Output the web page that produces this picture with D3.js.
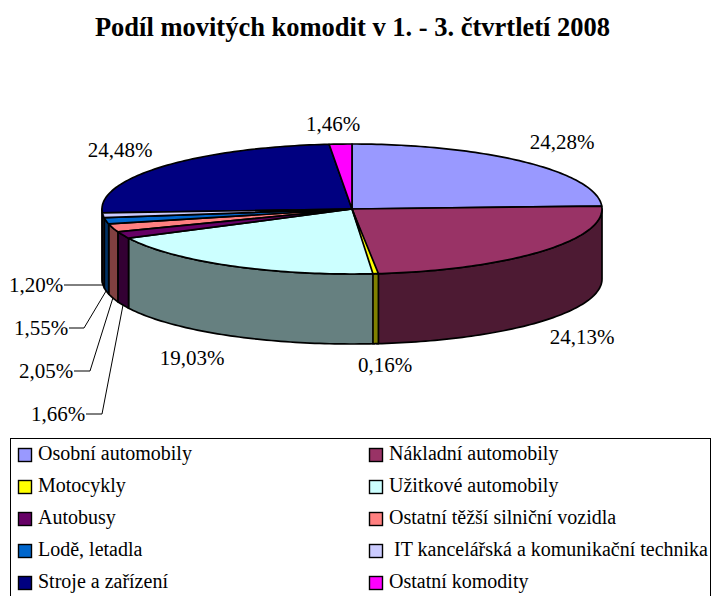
<!DOCTYPE html>
<html>
<head>
<meta charset="utf-8">
<script src="https://d3js.org/d3.v7.min.js"></script>
<style>
  html, body { margin: 0; padding: 0; background: #fff; overflow: hidden; }
  text { font-family: "Liberation Serif", serif; fill: #000; white-space: pre; }
</style>
</head>
<body>
<div id="chart"></div>
<script>
var title = "Podíl movitých komodit v 1. - 3. čtvrtletí 2008";
var categories = ["Osobní automobily", "Nákladní automobily", "Motocykly", "Užitkové automobily", "Autobusy",
                  "Ostatní těžší silniční vozidla", "Lodě, letadla", " IT kancelářská a komunikační technika",
                  "Stroje a zařízení", "Ostatní komodity"];
var values = [24.28, 24.13, 0.16, 19.03, 1.66, 2.05, 1.55, 1.20, 24.48, 1.46];
var topColors = ["#9999ff", "#993366", "#ffff00", "#ccffff", "#660066", "#ff8080", "#0066cc", "#ccccff", "#000080", "#ff00ff"];
var sideColors = ["#4d4d80", "#4d1a33", "#808000", "#668080", "#330033", "#804040", "#003366", "#666680", "#000040", "#800080"];

// where each label sits; elbow is only set for the ones with a leader line
var labelPos = [
  {x: 562, y: 149}, {x: 582, y: 344}, {x: 385, y: 372}, {x: 192, y: 365}, {x: 58, y: 421, elbow: 102},
  {x: 46, y: 378, elbow: 90}, {x: 41, y: 335, elbow: 84}, {x: 36, y: 292, elbow: 103},
  {x: 120, y: 157}, {x: 333, y: 131}
];

var width = 713, height = 596;
var depth = 70;
var minSweep = 0.022; // very thin slices would vanish under their outline

var svg = d3.select("#chart").append("svg")
  .attr("width", width)
  .attr("height", height);

svg.append("text")
  .text(title)
  .attr("x", 352.5)
  .attr("y", 36)
  .attr("text-anchor", "middle")
  .style("font-weight", "bold")
  .style("font-size", "26.5px");

// ellipse of the pie, sin/cos of the angle go in
var xScale = d3.scaleLinear().domain([-1, 1]).range([102, 602]);
var yScale = d3.scaleLinear().domain([-1, 1]).range([274, 144]);

var pie = d3.pie().sort(null).value(function(d) { return d; });
var slices = pie(values);

// thin ones get painted last so the neighbours don't cover them
var paintOrder = slices.slice().sort(function(a, b) { return b.value - a.value; });

function drawnAngles(d) {
  var sweep = d.endAngle - d.startAngle;
  if (sweep >= minSweep) return [d.startAngle, d.endAngle];
  var mid = (d.startAngle + d.endAngle) / 2;
  return [mid - minSweep / 2, mid + minSweep / 2];
}

function arcPoints(a0, a1, dy) {
  var n = Math.max(2, Math.ceil((a1 - a0) / 0.02));
  return d3.range(n + 1).map(function(i) {
    var a = a0 + (a1 - a0) * i / n;
    return [xScale(Math.sin(a)), yScale(Math.cos(a)) + dy];
  });
}

var line = d3.line().curve(d3.curveLinear);

// walls, only the front half of the rim can be seen
var front = paintOrder.filter(function(d) {
  return d.endAngle > Math.PI / 2 && d.startAngle < Math.PI * 1.5;
});

svg.selectAll(".wall")
  .data(front)
  .enter()
  .append("path")
  .attr("class", "wall")
  .attr("fill", function(d) { return sideColors[d.index]; })
  .attr("stroke", "#000")
  .attr("stroke-width", 1.7)
  .attr("stroke-linejoin", "round")
  .attr("d", function(d) {
    var angles = drawnAngles(d);
    var a0 = Math.max(angles[0], Math.PI / 2);
    var a1 = Math.min(angles[1], Math.PI * 1.5);
    var pts = arcPoints(a0, a1, 0).concat(arcPoints(a0, a1, depth).reverse());
    return line(pts) + "Z";
  });

// top of the pie
svg.selectAll(".slice")
  .data(paintOrder)
  .enter()
  .append("path")
  .attr("class", "slice")
  .attr("fill", function(d) { return topColors[d.index]; })
  .attr("stroke", "#000")
  .attr("stroke-width", 1.7)
  .attr("stroke-linejoin", "round")
  .attr("d", function(d) {
    var angles = drawnAngles(d);
    var pts = [[xScale(0), yScale(0)]].concat(arcPoints(angles[0], angles[1], 0));
    return line(pts) + "Z";
  });

// leader lines go from the bottom of the wall to the elbow and then to the label
svg.selectAll(".leader")
  .data(slices.filter(function(d) { return labelPos[d.index].elbow; }))
  .enter()
  .append("path")
  .attr("class", "leader")
  .attr("fill", "none")
  .attr("stroke", "#000")
  .attr("stroke-width", 1)
  .attr("d", function(d) {
    var p = labelPos[d.index];
    var mid = (d.startAngle + d.endAngle) / 2;
    var ly = p.y - 7;
    return line([
      [xScale(Math.sin(mid)), yScale(Math.cos(mid)) + depth],
      [p.elbow, ly],
      [p.x + 28, ly]
    ]);
  });

svg.selectAll(".label")
  .data(values)
  .enter()
  .append("text")
  .attr("class", "label")
  .text(function(d) { return d3.format(".2f")(d).replace(".", ",") + "%"; })
  .attr("x", function(d, i) { return labelPos[i].x; })
  .attr("y", function(d, i) { return labelPos[i].y; })
  .attr("text-anchor", "middle")
  .style("font-size", "21px");

// legend, two columns filled row by row
var legendY = d3.scalePoint().domain(d3.range(5)).range([460, 588]);
var legendX = [18, 369];

svg.append("rect")
  .attr("x", 10.5)
  .attr("y", 438.5)
  .attr("width", 700)
  .attr("height", 170)
  .attr("fill", "#fff")
  .attr("stroke", "#000")
  .attr("stroke-width", 1);

var items = svg.selectAll(".item")
  .data(categories)
  .enter()
  .append("g")
  .attr("class", "item")
  .attr("transform", function(d, i) {
    return "translate(" + legendX[i % 2] + "," + legendY(Math.floor(i / 2)) + ")";
  });

items.append("rect")
  .attr("x", 0.5)
  .attr("y", -11.5)
  .attr("width", 13)
  .attr("height", 13)
  .attr("fill", function(d, i) { return topColors[i]; })
  .attr("stroke", "#000")
  .attr("stroke-width", 1.4);

items.append("text")
  .text(function(d) { return d; })
  .attr("x", 20)
  .attr("y", 0)
  .style("font-size", "20px");
</script>
</body>
</html>
